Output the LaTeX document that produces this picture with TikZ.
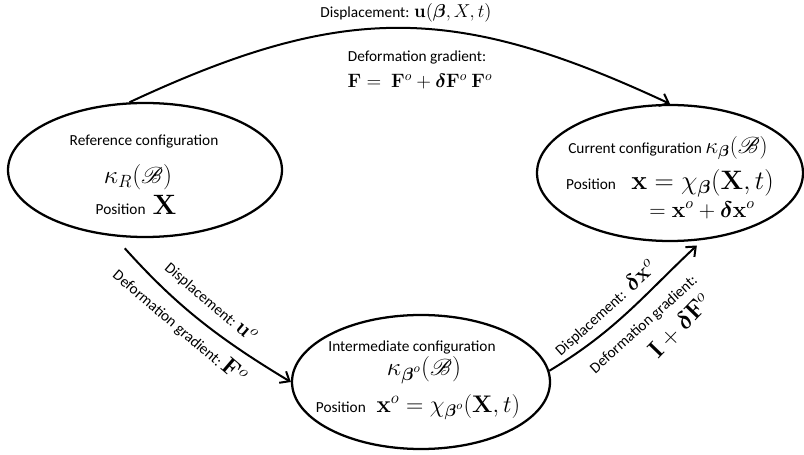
\documentclass[tikz,border=0pt]{standalone}
\usepackage{fix-cm}
\usepackage{amsmath,amssymb}
\usepackage{mathrsfs}
\usepackage[no-math]{fontspec}
\setmainfont{Carlito}
\usepackage{tikz}
\usetikzlibrary{shapes.geometric, arrows.meta, positioning}

\begin{document}
\begin{tikzpicture}[x=0.75pt, y=0.75pt,
    config/.style={ellipse, draw, line width=1.7pt, inner sep=0pt},
    txt/.style={font=\fontsize{11.5}{13}\selectfont, inner sep=0pt},
    big/.style={font=\fontsize{#1}{#1}\selectfont, inner sep=0pt},
    link/.style={line width=1.5pt, -{Straight Barb[length=6pt,width=10pt]}}]
        \useasboundingbox (0,0) rectangle (804,454);
        \node[config, minimum width=205.5pt, minimum height=100.5pt] (ref) at (145,284) {};
        \node[config, minimum width=199.5pt, minimum height=102pt] (cur) at (670,281) {};
        \node[config, minimum width=193.5pt, minimum height=100.5pt] (int) at (421,72) {};
        \node[txt] (reftitle) at (144,312) {Reference configuration};
        \node[big=19] (refkappa) at (138,277) {$\kappa_R(\mathscr{B})$};
        \node[txt] (refpos) at (136,249) {Position\ \ {\fontsize{21}{21}\selectfont$\mathbf{X}$}};
        \node[txt] (curtitle) at (668,306) {Current configuration\ {\fontsize{17}{17}\selectfont$\kappa_{\boldsymbol{\beta}}(\mathscr{B})$}};
        \node[txt] (curpos) at (670,271) {Position\quad{\fontsize{20}{20}\selectfont$\mathbf{x}=\chi_{\boldsymbol{\beta}}(\mathbf{X},t)$}};
        \node[big=17] (cursum) at (702,244) {$=\mathbf{x}^o+\boldsymbol{\delta}\mathbf{x}^o$};
        \node[txt] (inttitle) at (412,107) {Intermediate configuration};
        \node[big=19] (intkappa) at (424,84) {$\kappa_{\boldsymbol{\beta}^o}(\mathscr{B})$};
        \node[txt] (intpos) at (418,47) {Position\hspace{8pt}{\fontsize{18}{18}\selectfont$\mathbf{x}^o=\chi_{\boldsymbol{\beta}^o}(\mathbf{X},t)$}};
        \node[txt] (topdisp) at (406,441) {Displacement: {\fontsize{14}{14}\selectfont$\mathbf{u}(\boldsymbol{\beta},X,t)$}};
        \node[txt] (topgradname) at (417,397) {Deformation gradient:};
        \node[big=14.5] (topgrad) at (420,372) {$\mathbf{F}=\ \mathbf{F}^o+\boldsymbol{\delta}\mathbf{F}^o\ \mathbf{F}^o$};
        \node[txt, rotate=-40.5] (lldisp) at (211,152) {Displacement:\ {\fontsize{16}{16}\selectfont$\mathbf{u}^o$}};
        \node[txt, rotate=-40.5] (llgrad) at (180,128) {Deformation gradient:\ {\fontsize{18}{18}\selectfont$\mathbf{F}^o$}};
        \node[txt, rotate=42] (rdisp) at (605,146) {Displacement:\ \ {\fontsize{17}{17}\selectfont$\boldsymbol{\delta}\mathbf{x}^o$}};
        \node[txt, rotate=42] (rgradname) at (644,129) {Deformation gradient:};
        \node[big=18.5, rotate=46] (rgrad) at (680,128) {$\mathbf{I}+\boldsymbol{\delta}\mathbf{F}^o$};
        \draw[link] (ref.103) to[out=25, in=155, looseness=1.12] (cur.north);
        \draw[link, shorten <=12pt] (ref.245) to[out=-48, in=149] (int.west);
        \draw[link, shorten >=6pt] (int.5) to[out=31, in=223] (cur.296);
    \end{tikzpicture}
\end{document}
